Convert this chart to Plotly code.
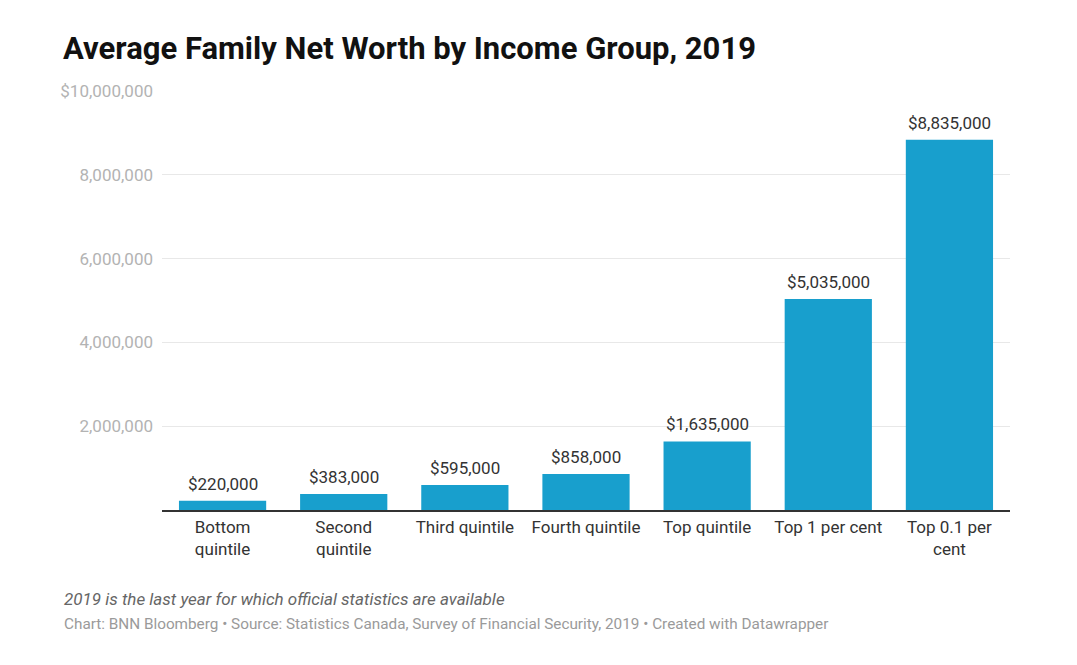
import plotly.graph_objects as go

categories = ["Bottom quintile", "Second quintile", "Third quintile", "Fourth quintile",
              "Top quintile", "Top 1 per cent", "Top 0.1 per cent"]
tick_labels = ["Bottom<br>quintile", "Second<br>quintile", "Third quintile", "Fourth quintile",
               "Top quintile", "Top 1 per cent", "Top 0.1 per<br>cent"]
net_worth = [220000, 383000, 595000, 858000, 1635000, 5035000, 8835000]
y_tickvals = [2000000, 4000000, 6000000, 8000000, 10000000]
y_ticktext = ["2,000,000", "4,000,000", "6,000,000", "8,000,000", "$10,000,000"]

FONT = "Roboto"
BAR = "#189fcd"

# page body has an 8px margin; compensate so the plot lands where the reference has it
L, T, R, B = 154, 83, 75, 163
PW = 1077 - L - R
PH = 665 - T - B

fig = go.Figure()
fig.add_trace(go.Bar(
    x=categories, y=net_worth,
    marker=dict(color=BAR, line=dict(width=0)),
    hoverinfo="skip",
))

for c, v in zip(categories, net_worth):
    fig.add_annotation(x=c, y=v, xref="x", yref="y", text=f"${v:,}",
                       showarrow=False, yanchor="bottom", yshift=5,
                       font=dict(family=FONT, size=17, color="#333333"))

fig.update_layout(
    width=1077, height=665,
    paper_bgcolor="white", plot_bgcolor="white",
    margin=dict(l=L, r=R, t=T, b=B),
    bargap=0.28,
    showlegend=False,
    font=dict(family=FONT),
    title=dict(text="<b>Average Family Net Worth by Income Group, 2019</b>",
               x=55/1077, xanchor="left", y=1-40/665, yanchor="middle",
               font=dict(family=FONT, size=31, color="#111111")),
    xaxis=dict(
        tickvals=categories, ticktext=tick_labels,
        tickfont=dict(family=FONT, size=17, color="#333333"),
        showline=True, linecolor="#333333", linewidth=1.5,
        showgrid=False, ticks="", ticklabelstandoff=1,
        range=[-0.5, 6.5], fixedrange=True,
    ),
    yaxis=dict(
        range=[0, 10000000],
        tickvals=y_tickvals, ticktext=y_ticktext,
        tickfont=dict(family=FONT, size=17, color="#b3b3b3"),
        showgrid=True, gridcolor="#e8e8e8", gridwidth=1,
        zeroline=False, showline=False, ticks="", ticklabelstandoff=8,
        fixedrange=True,
    ),
)

fig.add_annotation(xref="paper", yref="paper", x=(54 - L) / PW, y=-(591 - 83 - PH) / PH,
                   xanchor="left", yanchor="middle", showarrow=False,
                   text="<i>2019 is the last year for which official statistics are available</i>",
                   font=dict(family=FONT, size=17, color="#666666"))
fig.add_annotation(xref="paper", yref="paper", x=(54 - L) / PW, y=-(616 - 83 - PH) / PH,
                   xanchor="left", yanchor="middle", showarrow=False,
                   text="Chart: BNN Bloomberg • Source: Statistics Canada, Survey of Financial Security, 2019 • Created with Datawrapper",
                   font=dict(family=FONT, size=15.3, color="#9a9a9a"))

fig.write_html("out.html")
